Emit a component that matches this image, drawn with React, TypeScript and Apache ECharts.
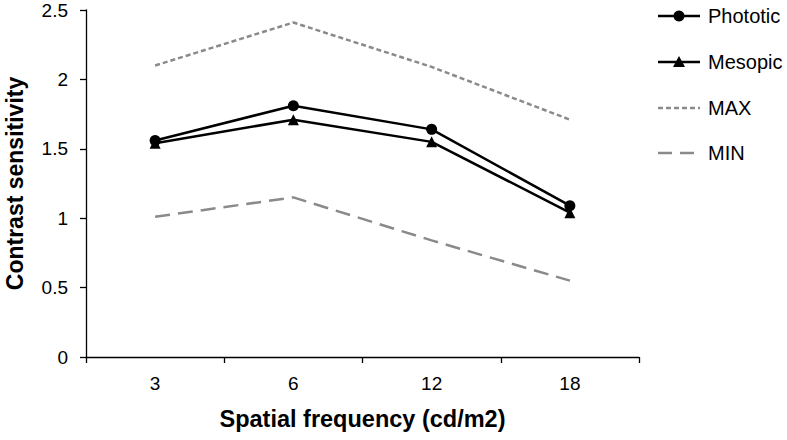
import React, { useEffect, useRef } from "react";
import * as echarts from "echarts";

const categories = ["3", "6", "12", "18"];
const phototic = [1.56, 1.81, 1.64, 1.09];
const mesopic = [1.54, 1.71, 1.55, 1.04];
const maxVals = [2.1, 2.41, 2.09, 1.71];
const minVals = [1.01, 1.15, 0.84, 0.55];
const legendNames = ["Phototic", "Mesopic", "MAX", "MIN"];

const FONT = "Liberation Sans, Arial, sans-serif";
const GRAY = "#8a8a8a";
const DASH_MAX = [5, 3];
const DASH_MIN = [15, 8];

function buildLegend() {
  const x0 = 658;
  const x1 = 700;
  const xm = (x0 + x1) / 2;
  const rows = [16, 62, 108, 153];
  const els: any[] = [];
  const styles = [
    { stroke: "#000", lineWidth: 2.5 },
    { stroke: "#000", lineWidth: 2.5 },
    { stroke: GRAY, lineWidth: 2.5, lineDash: DASH_MAX },
    { stroke: GRAY, lineWidth: 2.5, lineDash: [14, 8] },
  ];
  legendNames.forEach((name, i) => {
    const y = rows[i];
    els.push({ type: "line", shape: { x1: x0, y1: y, x2: x1, y2: y }, style: styles[i] });
    if (i === 0) els.push({ type: "circle", shape: { cx: xm, cy: y, r: 5.5 }, style: { fill: "#000" } });
    if (i === 1)
      els.push({
        type: "polygon",
        shape: { points: [[xm, y - 6], [xm - 6, y + 5], [xm + 6, y + 5]] },
        style: { fill: "#000" },
      });
    els.push({
      type: "text",
      x: 708,
      y,
      style: { text: name, fontSize: 20, fontFamily: FONT, fill: "#000", verticalAlign: "middle", align: "left" },
    });
  });
  return els;
}

export default function App() {
  const ref = useRef<HTMLDivElement>(null);
  useEffect(() => {
    if (!ref.current) return;
    const chart = echarts.init(ref.current, undefined, { renderer: "svg" });
    chart.setOption({
      animation: false,
      backgroundColor: "#fff",
      textStyle: { fontFamily: FONT },
      grid: { left: 86, right: 148, top: 10, bottom: 83, containLabel: false, outerBoundsMode: "none" },
      graphic: buildLegend(),
      xAxis: {
        type: "category",
        data: categories,
        boundaryGap: true,
        name: "Spatial frequency (cd/m2)",
        nameLocation: "middle",
        nameGap: 50,
        nameTextStyle: { fontSize: 23.5, fontWeight: "bold", color: "#000", fontFamily: FONT },
        axisLine: { lineStyle: { color: "#000", width: 1.3 } },
        axisTick: { show: true, length: 6, alignWithLabel: false, lineStyle: { color: "#000", width: 1.3 } },
        axisLabel: { fontSize: 19, color: "#000", margin: 17, fontFamily: FONT },
        splitLine: { show: false },
      },
      yAxis: {
        type: "value",
        min: 0,
        max: 2.5,
        interval: 0.5,
        name: "Contrast sensitivity",
        nameLocation: "middle",
        nameGap: 60,
        nameTextStyle: { fontSize: 23, fontWeight: "bold", color: "#000", fontFamily: FONT },
        axisLine: { show: true, lineStyle: { color: "#000", width: 1.3 } },
        axisTick: { show: true, length: 6, lineStyle: { color: "#000", width: 1.3 } },
        axisLabel: { fontSize: 19, color: "#000", margin: 18, fontFamily: FONT },
        splitLine: { show: false },
      },
      series: [
        {
          name: "Phototic",
          type: "line",
          data: phototic,
          symbol: "circle",
          symbolSize: 11,
          itemStyle: { color: "#000" },
          lineStyle: { color: "#000", width: 2.5 },
        },
        {
          name: "Mesopic",
          type: "line",
          data: mesopic,
          symbol: "triangle",
          symbolSize: 11,
          itemStyle: { color: "#000" },
          lineStyle: { color: "#000", width: 2.5 },
        },
        {
          name: "MAX",
          type: "line",
          data: maxVals,
          symbol: "none",
          itemStyle: { color: GRAY },
          lineStyle: { color: GRAY, width: 2.5, type: DASH_MAX },
        },
        {
          name: "MIN",
          type: "line",
          data: minVals,
          symbol: "none",
          itemStyle: { color: GRAY },
          lineStyle: { color: GRAY, width: 2.5, type: DASH_MIN },
        },
      ],
    });
    return () => chart.dispose();
  }, []);
  return (
    <div
      ref={ref}
      style={{ position: "fixed", left: 0, top: 0, width: 787, height: 440, background: "#fff" }}
    />
  );
}
